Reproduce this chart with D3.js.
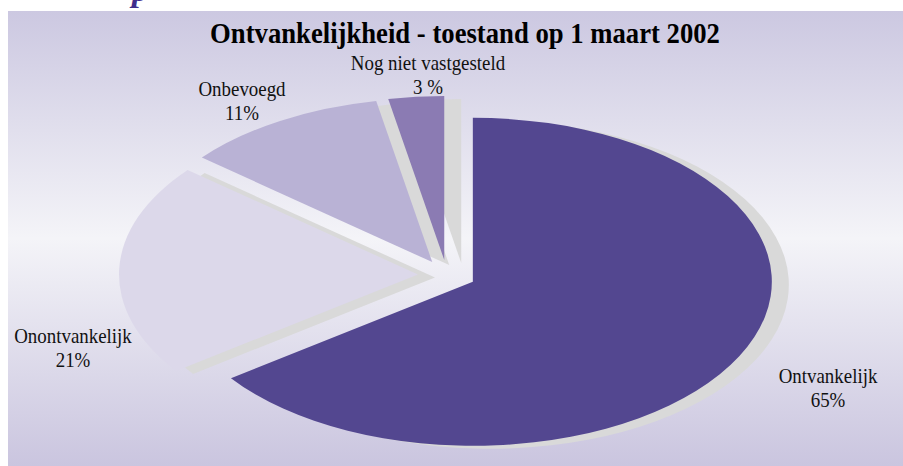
<!DOCTYPE html>
<html><head><meta charset="utf-8">
<script src="https://cdn.jsdelivr.net/npm/d3@7"></script>
<style>html,body{margin:0;padding:0;background:#fff;}svg{display:block;}</style>
</head><body>
<script>
const categories = ["Ontvankelijk", "Onontvankelijk", "Onbevoegd", "Nog niet vastgesteld"];
const values = [65, 21, 11, 3];
const valueLabels = ["65%", "21%", "11%", "3 %"];
const title = "Ontvankelijkheid - toestand op 1 maart 2002";

const W = 903, H = 466;
const svg = d3.select("body").append("svg").attr("width", W).attr("height", H);
const defs = svg.append("defs");
const grad = defs.append("linearGradient").attr("id", "bg").attr("x1", 0).attr("y1", 0).attr("x2", 0).attr("y2", 1);
grad.append("stop").attr("offset", "0%").attr("stop-color", "#ccc8e1");
grad.append("stop").attr("offset", "50%").attr("stop-color", "#f4f4f8");
grad.append("stop").attr("offset", "100%").attr("stop-color", "#cac5df");

svg.append("rect").attr("x", 8).attr("y", 11).attr("width", W - 8).attr("height", H - 11).attr("fill", "url(#bg)");

// cut-off heading above
svg.append("text").attr("x", 132).attr("y", 1).attr("font-family", "Liberation Serif").attr("font-style", "italic")
  .attr("font-weight", "bold").attr("font-size", 34).attr("fill", "#3f2e8c").text("p");

svg.append("text").attr("transform", "translate(465,43) scale(0.92,1)").attr("text-anchor", "middle")
  .attr("font-family", "Liberation Serif").attr("font-weight", "bold").attr("font-size", 29).attr("fill", "#000").text(title);

const colors = d3.scaleOrdinal().domain(categories).range(["#534790", "#dcd8ea", "#b9b2d5", "#8b7bb3"]);
const R = 164, sx = 299 / 164;
const cx = 447, cy = 275, ex = 29, ey = 15;
const pie = d3.pie().sort(null).value(d => d)(values);
const arc = d3.arc().innerRadius(0).outerRadius(R);
function center(d) {
  const m = (d.startAngle + d.endAngle) / 2;
  return [cx + ex * Math.sin(m), cy - ey * Math.cos(m)];
}
const shadow = svg.append("g");
shadow.selectAll("path").data(pie).join("path")
  .attr("transform", d => { const c = center(d); return `translate(${c[0] + 17},${c[1] + 3}) scale(${sx},1)`; })
  .attr("d", arc).attr("fill", "#d9d9d9");
const slices = svg.append("g");
slices.selectAll("path").data(pie).join("path")
  .attr("transform", d => { const c = center(d); return `translate(${c[0]},${c[1]}) scale(${sx},1)`; })
  .attr("d", arc).attr("fill", (d, i) => colors(categories[i]));

const labelPos = [[828, 383], [73, 343], [242, 96], [428, 70]];
const lg = svg.append("g").attr("font-family", "Liberation Serif").attr("font-size", 22).attr("fill", "#111");
categories.forEach((c, i) => {
  const t = lg.append("text").attr("transform", `translate(${labelPos[i][0]},${labelPos[i][1]}) scale(0.86,1)`).attr("text-anchor", "middle");
  t.append("tspan").attr("x", 0).attr("y", 0).text(c);
  t.append("tspan").attr("x", 0).attr("y", 24).text(valueLabels[i]);
});
</script>
</body></html>
